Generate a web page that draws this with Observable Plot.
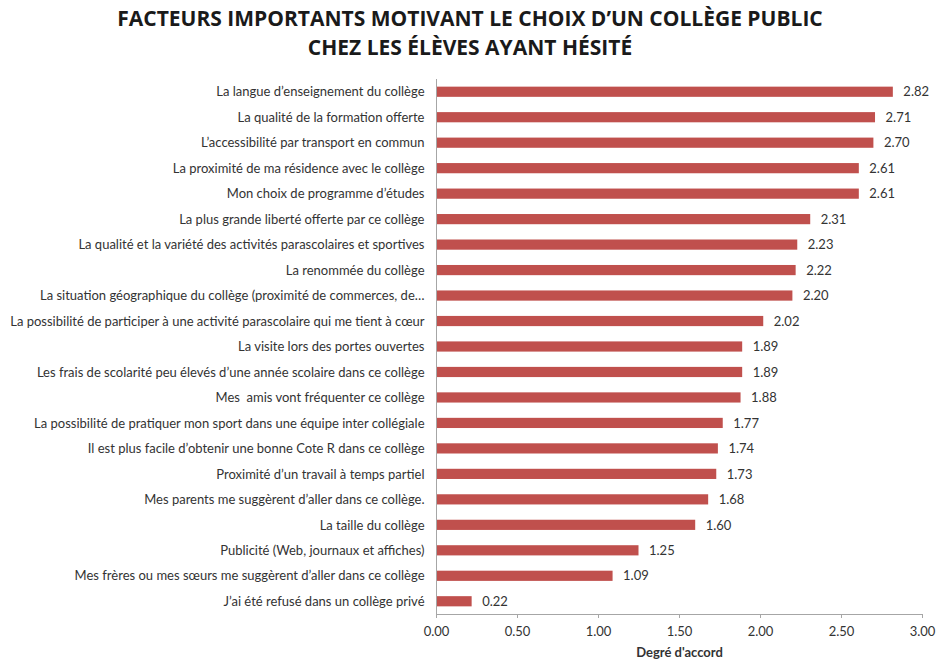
<!DOCTYPE html>
<html>
<head>
<meta charset="utf-8">
<script src="https://cdn.jsdelivr.net/npm/d3@7"></script>
<script src="https://cdn.jsdelivr.net/npm/@observablehq/plot@0.6"></script>
<style>
  body { margin: 0; background: #fff; width: 940px; height: 660px; overflow: hidden; }
  #title { box-sizing: border-box; height: 70px; padding-top: 4px; text-align: center;
    font-family: "Open Sans", sans-serif; font-weight: 700; font-size: 21px;
    line-height: 29px; color: #1a1a1a; letter-spacing: 0px; }
  #chart svg { font-family: Lato, sans-serif; }
  g[aria-label="x-axis label"] text { font-weight: 700; }
</style>
</head>
<body>
<div id="title">FACTEURS IMPORTANTS MOTIVANT LE CHOIX D’UN COLLÈGE PUBLIC<br>CHEZ LES ÉLÈVES AYANT HÉSITÉ</div>
<div id="chart"></div>
<script>
const categories = [
  "La langue d’enseignement du collège",
  "La qualité de la formation offerte",
  "L’accessibilité par transport en commun",
  "La proximité de ma résidence avec le collège",
  "Mon choix de programme d’études",
  "La plus grande liberté offerte par ce collège",
  "La qualité et la variété des activités parascolaires et sportives",
  "La renommée du collège",
  "La situation géographique du collège (proximité de commerces, de…",
  "La possibilité de participer à une activité parascolaire qui me tient à cœur",
  "La visite lors des portes ouvertes",
  "Les frais de scolarité peu élevés d’une année scolaire dans ce collège",
  "Mes  amis vont fréquenter ce collège",
  "La possibilité de pratiquer mon sport dans une équipe inter collégiale",
  "Il est plus facile d’obtenir une bonne Cote R dans ce collège",
  "Proximité d’un travail à temps partiel",
  "Mes parents me suggèrent d’aller dans ce collège.",
  "La taille du collège",
  "Publicité (Web, journaux et affiches)",
  "Mes frères ou mes sœurs me suggèrent d’aller dans ce collège",
  "J’ai été refusé dans un collège privé"
];
const values = [2.82, 2.71, 2.70, 2.61, 2.61, 2.31, 2.23, 2.22, 2.20, 2.02, 1.89, 1.89, 1.88, 1.77, 1.74, 1.73, 1.68, 1.60, 1.25, 1.09, 0.22];
const xTicks = [0, 0.5, 1, 1.5, 2, 2.5, 3];
const xLabel = "Degré d'accord";

const data = categories.map((c, i) => ({category: c, value: values[i]}));

const chart = Plot.plot({
  width: 940,
  height: 590,
  marginLeft: 436,
  marginRight: 18,
  marginTop: 9,
  marginBottom: 46,
  style: {fontSize: "13px", color: "#333", background: "#fff"},
  x: {domain: [0, 3], ticks: xTicks},
  y: {domain: categories, paddingInner: 0.6, paddingOuter: 0.3, round: false},
  marks: [
    Plot.barX(data, {y: "category", x: "value", fill: "#c0504d"}),
    Plot.text(data, {y: "category", x: "value", text: d => d.value.toFixed(2), textAnchor: "start", dx: 10, fontSize: 13, fill: "#333"}),
    Plot.ruleX([0], {stroke: "#a6a6a6", strokeWidth: 1}),
    Plot.frame({anchor: "bottom", stroke: "#a6a6a6"}),
    Plot.axisY({tickSize: 0, tickPadding: 12, label: null, fontSize: 13}),
    Plot.axisX({ticks: xTicks, tickFormat: d => d.toFixed(2), tickSize: 4, stroke: "#a6a6a6", tickPadding: 8, fontSize: 13,
      label: xLabel, labelAnchor: "center", labelArrow: "none", labelOffset: 42})
  ]
});
document.getElementById("chart").appendChild(chart);
</script>
</body>
</html>
